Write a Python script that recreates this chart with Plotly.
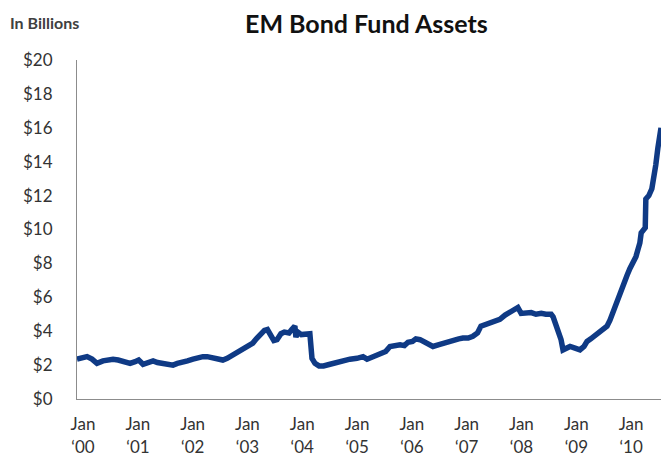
import plotly.graph_objects as go

# Weekly-ish snapshots of emerging-market bond fund assets (US$ billions)
dates = [
    "2000-01-01", "2000-02-03", "2000-03-08", "2000-04-10", "2000-05-13", "2000-06-22",
    "2000-07-26", "2000-08-28", "2000-10-01", "2000-11-03", "2000-12-20",
    "2001-01-22", "2001-02-15", "2001-03-16", "2001-04-13", "2001-05-22", "2001-06-20",
    "2001-07-27", "2001-08-25", "2001-10-02", "2001-10-31", "2001-12-08",
    "2002-01-06", "2002-02-12", "2002-03-13", "2002-04-19", "2002-05-18", "2002-06-24",
    "2002-07-24", "2002-08-30", "2002-09-28", "2002-11-05", "2002-12-04",
    "2003-01-11", "2003-02-09", "2003-03-18", "2003-04-10", "2003-05-11", "2003-06-03",
    "2003-06-23", "2003-07-10", "2003-08-05", "2003-08-26", "2003-09-21", "2003-10-14",
    "2003-11-14", "2003-12-02", "2003-12-23", "2003-12-30",
    "2004-01-12", "2004-02-04", "2004-03-06", "2004-04-01", "2004-04-15", "2004-05-05",
    "2004-06-01", "2004-07-01", "2004-08-13", "2004-09-22", "2004-11-07", "2004-12-24",
    "2005-02-09", "2005-03-21", "2005-04-17", "2005-05-27", "2005-07-12", "2005-08-19",
    "2005-09-17", "2005-10-25", "2005-11-23", "2005-12-22",
    "2006-01-15", "2006-02-14", "2006-03-08", "2006-04-05", "2006-05-01", "2006-05-27",
    "2006-06-30", "2006-08-04", "2006-09-05", "2006-10-12", "2006-11-10", "2006-12-19",
    "2007-01-16", "2007-02-20", "2007-03-23", "2007-04-23", "2007-05-16", "2007-06-19",
    "2007-07-21", "2007-08-26", "2007-09-19", "2007-10-24", "2007-11-25", "2007-12-31",
    "2008-01-17", "2008-02-08", "2008-03-11", "2008-04-15", "2008-05-17", "2008-06-21",
    "2008-07-22", "2008-08-26", "2008-09-08", "2008-09-28", "2008-10-11", "2008-10-31",
    "2008-11-13", "2008-12-04", "2008-12-30",
    "2009-02-01", "2009-03-06", "2009-04-02", "2009-04-22", "2009-05-17", "2009-06-08",
    "2009-07-04", "2009-07-24", "2009-08-13", "2009-09-02", "2009-09-22", "2009-10-05",
    "2009-10-24", "2009-11-14", "2009-12-04", "2009-12-24",
    "2010-01-14", "2010-02-02", "2010-02-23", "2010-03-14", "2010-03-27", "2010-04-09",
    "2010-04-18", "2010-05-05", "2010-05-15", "2010-05-19", "2010-06-08", "2010-06-28",
    "2010-07-11", "2010-07-24", "2010-08-07", "2010-08-21", "2010-08-28",
]
assets = [
    2.35, 2.45, 2.5, 2.35, 2.1, 2.25,
    2.3, 2.35, 2.3, 2.2, 2.1,
    2.2, 2.3, 2.05, 2.15, 2.25, 2.15,
    2.1, 2.1, 2.0, 2.1, 2.15,
    2.25, 2.35, 2.45, 2.5, 2.5, 2.45,
    2.35, 2.3, 2.4, 2.6, 2.75,
    2.9, 3.05, 3.3, 3.55, 3.85, 4.05,
    4.1, 3.8, 3.45, 3.5, 3.85, 3.95,
    3.9, 4.1, 4.3, 3.65,
    3.95, 3.8, 3.85, 3.85, 2.4, 2.1,
    1.95, 1.95, 2.05, 2.15, 2.25, 2.35,
    2.4, 2.5, 2.35, 2.5, 2.65, 2.8,
    3.1, 3.15, 3.2, 3.15,
    3.35, 3.4, 3.55, 3.5, 3.4, 3.3,
    3.1, 3.2, 3.3, 3.4, 3.5, 3.55,
    3.6, 3.6, 3.7, 3.9, 4.3, 4.4,
    4.5, 4.55, 4.7, 4.95, 5.15, 5.3,
    5.4, 5.05, 5.1, 5.1, 5.0, 5.05,
    5.0, 5.0, 4.85, 4.4, 3.9, 3.5,
    2.9, 3.0, 3.1,
    3.0, 2.9, 3.1, 3.4, 3.55, 3.7,
    3.8, 3.95, 4.1, 4.3, 4.65, 4.95,
    5.6, 6.0, 6.5, 6.9,
    7.3, 7.7, 8.0, 8.4, 8.8, 9.2,
    9.8, 10.0, 10.1, 11.8, 12.0, 12.4,
    13.0, 13.8, 14.8, 15.6, 16.0,
]

tick_dates = [f"{y}-01-01" for y in range(2000, 2011)]
tick_text = [f"Jan<br>\u2018{y % 100:02d}" for y in range(2000, 2011)]
y_ticks = list(range(0, 21, 2))
y_text = [f"${v}" for v in y_ticks]
x_range = ["2000-01-01", "2010-08-28"]
y_range = [0, 20]

FONT = "Lato, 'Open Sans', sans-serif"
AXIS_GREY = "#8c8c8c"
LABEL = "#333333"
CLEAR = "rgba(0,0,0,0)"

fig = go.Figure(
    go.Scatter(
        x=dates,
        y=assets,
        mode="lines",
        line=dict(color="#0f3a85", width=5.5, shape="linear"),
        hoverinfo="skip",
    )
)

common = dict(showgrid=False, zeroline=False, automargin=False, fixedrange=True)

fig.update_layout(
    width=661,
    height=455,
    margin=dict(l=77, r=0, t=60, b=56),
    paper_bgcolor="white",
    plot_bgcolor="white",
    showlegend=False,
    font=dict(family=FONT, color=LABEL),
    # Primary axes carry the labels; their long ticks are transparent and
    # only serve to push the labels away from the axis line.
    xaxis=dict(
        range=x_range,
        tickmode="array",
        tickvals=tick_dates,
        ticktext=tick_text,
        ticks="outside",
        ticklen=10,
        tickcolor=CLEAR,
        showline=True,
        linecolor=AXIS_GREY,
        linewidth=1,
        ticklabelshift=6,
        tickfont=dict(family=FONT, size=17, color=LABEL),
        **common,
    ),
    yaxis=dict(
        range=y_range,
        tickmode="array",
        tickvals=y_ticks,
        ticktext=y_text,
        ticks="outside",
        ticklen=20,
        tickcolor=CLEAR,
        showline=True,
        linecolor=AXIS_GREY,
        linewidth=1,
        tickfont=dict(family=FONT, size=17, color=LABEL),
        **common,
    ),
    # Overlaid axes draw the short grey tick marks.
    xaxis2=dict(
        overlaying="x",
        matches="x",
        anchor="y",
        side="bottom",
        range=x_range,
        tickmode="array",
        tickvals=tick_dates,
        ticks="outside",
        ticklen=5,
        tickwidth=1,
        tickcolor=AXIS_GREY,
        showticklabels=False,
        showline=False,
        **common,
    ),
    yaxis2=dict(
        overlaying="y",
        anchor="x",
        side="left",
        range=y_range,
        tickmode="array",
        tickvals=y_ticks,
        ticks="outside",
        ticklen=7,
        tickwidth=1,
        tickcolor=AXIS_GREY,
        showticklabels=False,
        showline=False,
        **common,
    ),
    annotations=[
        dict(
            text="<b>EM Bond Fund Assets</b>",
            xref="paper", yref="paper",
            x=(366.5 - 77) / 584, y=1.0,
            xanchor="center", yanchor="bottom",
            yshift=20,
            showarrow=False,
            font=dict(family=FONT, size=25, color="#111111"),
        ),
        dict(
            text="<b>In Billions</b>",
            xref="paper", yref="paper",
            x=-77 / 584, y=1.0,
            xanchor="left", yanchor="bottom",
            xshift=8, yshift=26,
            showarrow=False,
            font=dict(family=FONT, size=16, color="#404040"),
        ),
    ],
)

fig.write_html("out.html")
